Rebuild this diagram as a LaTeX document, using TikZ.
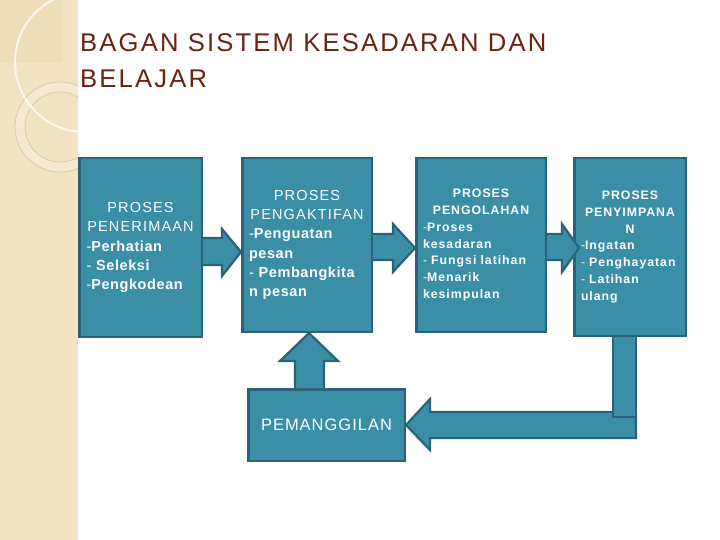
\documentclass[tikz,border=0pt]{standalone}
\usepackage{fontspec}
\setmainfont{Liberation Sans}
\newfontfamily\hdfont[LetterSpace=8]{Liberation Sans}
\newfontfamily\lsfont[LetterSpace=4]{Liberation Sans}
\newfontfamily\smfont[LetterSpace=8]{Liberation Sans}
\newfontfamily\ttlfont[LetterSpace=8.5]{Liberation Sans}
\newfontfamily\pmfont[LetterSpace=6]{Liberation Sans}
\definecolor{tealfill}{HTML}{3A8FA7}
\definecolor{tealline}{HTML}{2A6375}
\definecolor{titlecol}{HTML}{6B2211}
\definecolor{stripcol}{HTML}{F2E3C2}
\definecolor{stripdark}{HTML}{EEDDB9}
\definecolor{ringcol}{HTML}{D8C69E}
\newcommand\rhy{{\mdseries -}}
\newcommand\bx[1]{{\lsfont\bfseries #1}}
\tikzset{
  box/.style={draw=tealline, fill=tealfill, line width=2.5pt, rectangle, inner sep=0pt, text=white, align=left},
  blk/.style={draw=tealline, fill=tealfill, line width=2.2pt, line join=miter},
  bigtxt/.style={font=\hdfont\fontsize{14.5}{19.25}\selectfont},
  smtxt/.style={font=\smfont\fontsize{12.3}{16.7}\selectfont\bfseries},
  ttl/.style={anchor=base west, inner sep=0pt, text=titlecol, font=\ttlfont\fontsize{25.6}{36}\selectfont},
}
\begin{document}
\begin{tikzpicture}[x=1pt,y=-1pt]
\useasboundingbox (0,0) rectangle (720,540);
\fill[white] (0,0) rectangle (720,540);
% left decorative strip
\fill[stripcol] (0,0) rectangle (78,540);
\begin{scope}
  \clip (0,0) rectangle (78,540);
  \fill[stripdark] (0,0) rectangle (63,63);
  \fill[white, opacity=0.25, even odd rule] (60,127) circle (45) (60,127) circle (35);
  \draw[ringcol, line width=0.7pt] (60,127) circle (45);
  \draw[ringcol, line width=0.7pt] (60,127) circle (35);
  \draw[white, opacity=0.8, line width=2pt] (85,62) circle (70);
\end{scope}
% title
\node[ttl] (t1) at (80,52) {BAGAN SISTEM KESADARAN DAN};
\node[ttl] (t2) at (80,88) {BELAJAR};
% boxes
\node[box, bigtxt, minimum width=122.5pt, minimum height=178.5pt, text width=108pt] (b1) at (140.5,247.5)
 {\makebox[\linewidth]{PROSES}\\\makebox[\linewidth]{PENERIMAAN}\\\rhy\bx{Perhatian}\\\rhy\ \bx{Seleksi}\\\rhy\bx{Pengkodean}};
\node[box, bigtxt, minimum width=129.5pt, minimum height=173.5pt, text width=116pt] (b2) at (307,245)
 {\makebox[\linewidth]{PROSES}\\\makebox[\linewidth]{PENGAKTIFAN}\\\rhy\bx{Penguatan}\\\bx{pesan}\\\rhy\ \bx{Pembangkita}\\\bx{n pesan}};
\node[box, smtxt, minimum width=129.5pt, minimum height=173.5pt, text width=116pt] (b3) at (481,245)
 {\makebox[\linewidth]{PROSES}\\\makebox[\linewidth]{PENGOLAHAN}\\\rhy Proses\\kesadaran\\\rhy\ Fungsi latihan\\\rhy Menarik\\kesimpulan};
\node[box, smtxt, minimum width=111.5pt, minimum height=177.5pt, text width=98pt] (b4) at (630,247)
 {\makebox[\linewidth]{PROSES}\\\makebox[\linewidth]{PENYIMPANA}\\\makebox[\linewidth]{N}\\\rhy Ingatan\\\rhy\ Penghayatan\\\rhy\ Latihan\\ulang};
\node[box, minimum width=156.5pt, minimum height=71.5pt, font=\pmfont\fontsize{16.5}{20}\selectfont, align=center] (pm) at (326.5,425) {PEMANGGILAN};
% block arrows between boxes
\filldraw[blk] (b1.east |- 0,238) -- (222,238) -- (222,229) -- (b2.west |- 0,252) -- (222,276) -- (222,265) -- (b1.east |- 0,265);
\filldraw[blk] (b2.east |- 0,234) -- (393,234) -- (393,224) -- (b3.west |- 0,248) -- (393,272) -- (393,260) -- (b2.east |- 0,260);
\filldraw[blk] (b3.east |- 0,234) -- (562,234) -- (562,224) -- (579,248) -- (562,272) -- (562,260) -- (b3.east |- 0,260);
% up arrow from PEMANGGILAN to box 2
\filldraw[blk] (295,0 |- pm.north) -- (295,361) -- (280,361) -- (309,0 |- b2.south) -- (338,361) -- (324,361) -- (324,0 |- pm.north);
% bent arrow from box 4 back to PEMANGGILAN
\filldraw[blk] (636,414) -- (636,438) -- (430,438) -- (430,450) -- (pm.east |- 0,425) -- (430,399) -- (430,412) -- (613,412);
\filldraw[blk] (613,0 |- b4.south) -- (613,417) -- (636,417) -- (636,0 |- b4.south);
\end{tikzpicture}
\end{document}
